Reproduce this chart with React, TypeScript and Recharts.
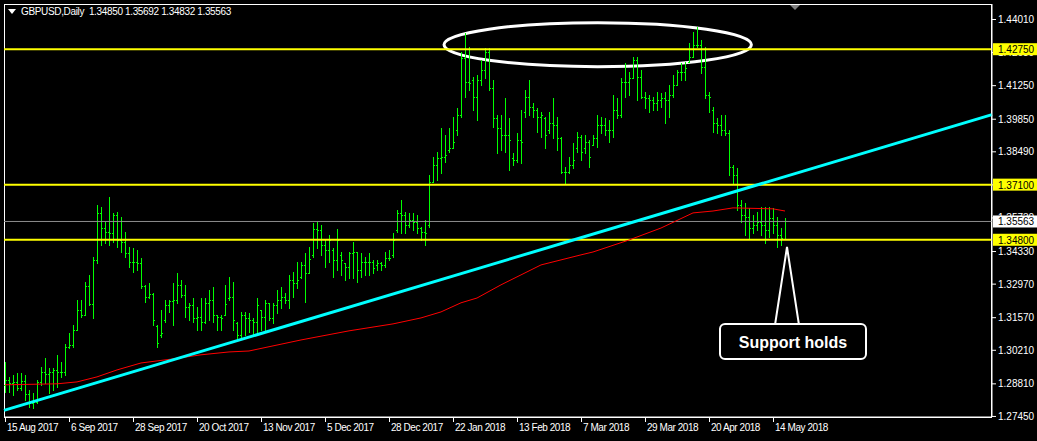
import React from "react";
import {
  ComposedChart, Bar, Line, XAxis, YAxis, ReferenceLine, ReferenceArea,
} from "recharts";

// GBPUSD daily bars, 15 Aug 2017 .. mid May 2018
const OPEN = [
  1.2875, 1.2895, 1.2883, 1.2887, 1.2862, 1.2891, 1.2837, 1.2800, 1.2804, 1.2887,
  1.2929, 1.2920, 1.2929, 1.2937, 1.2929, 1.2929, 1.3033, 1.3042, 1.3104, 1.3187,
  1.3167, 1.3287, 1.3212, 1.3396, 1.3592, 1.3529, 1.3513, 1.3508, 1.3583, 1.3479,
  1.3471, 1.3425, 1.3387, 1.3387, 1.3383, 1.3287, 1.3242, 1.3254, 1.3120, 1.3083,
  1.3146, 1.3208, 1.3225, 1.3229, 1.3292, 1.3250, 1.3200, 1.3208, 1.3154, 1.3158,
  1.3137, 1.3217, 1.3229, 1.3167, 1.3158, 1.3167, 1.3237, 1.3242, 1.3133, 1.3083,
  1.3167, 1.3154, 1.3146, 1.3137, 1.3187, 1.3158, 1.3217, 1.3154, 1.3208, 1.3229,
  1.3242, 1.3229, 1.3312, 1.3300, 1.3325, 1.3375, 1.3342, 1.3417, 1.3525, 1.3521,
  1.3458, 1.3438, 1.3438, 1.3396, 1.3417, 1.3383, 1.3367, 1.3425, 1.3429, 1.3354,
  1.3387, 1.3387, 1.3387, 1.3375, 1.3383, 1.3375, 1.3404, 1.3417, 1.3521, 1.3592,
  1.3583, 1.3542, 1.3563, 1.3554, 1.3529, 1.3513, 1.3542, 1.3721, 1.3792, 1.3821,
  1.3825, 1.3855, 1.3863, 1.3938, 1.4000, 1.4238, 1.4138, 1.4146, 1.4076, 1.4146,
  1.4188, 1.4263, 1.4113, 1.3988, 1.3946, 1.3917, 1.3917, 1.3821, 1.3813, 1.3896,
  1.4013, 1.4076, 1.4034, 1.4021, 1.3992, 1.3988, 1.3938, 1.3967, 1.3959, 1.3905,
  1.3763, 1.3763, 1.3792, 1.3863, 1.3909, 1.3863, 1.3888, 1.3875, 1.3905, 1.3959,
  1.3959, 1.3938, 1.3938, 1.4021, 1.4000, 1.4138, 1.4138, 1.4155, 1.4230, 1.4159,
  1.4076, 1.4071, 1.4063, 1.4050, 1.4063, 1.4071, 1.4063, 1.4084, 1.4126, 1.4180,
  1.4180, 1.4221, 1.4242, 1.4292, 1.4292, 1.4201, 1.4084, 1.4021, 1.3967, 1.3959,
  1.3938, 1.3925, 1.3784, 1.3750, 1.3625, 1.3583, 1.3575, 1.3529, 1.3542, 1.3554,
  1.3542, 1.3521, 1.3571, 1.3542, 1.3500, 1.34850,
];
const HIGH = [
  1.2970, 1.2908, 1.2916, 1.2924, 1.2924, 1.2916, 1.2854, 1.2841, 1.2895, 1.2950,
  1.2987, 1.2945, 1.2945, 1.3000, 1.2970, 1.3046, 1.3091, 1.3125, 1.3229, 1.3229,
  1.3304, 1.3333, 1.3408, 1.3625, 1.3617, 1.3554, 1.3659, 1.3592, 1.3596, 1.3575,
  1.3513, 1.3450, 1.3446, 1.3438, 1.3404, 1.3292, 1.3300, 1.3260, 1.3125, 1.3187,
  1.3229, 1.3229, 1.3300, 1.3342, 1.3312, 1.3292, 1.3217, 1.3237, 1.3200, 1.3237,
  1.3237, 1.3271, 1.3283, 1.3167, 1.3167, 1.3292, 1.3325, 1.3304, 1.3137, 1.3179,
  1.3179, 1.3175, 1.3154, 1.3237, 1.3187, 1.3229, 1.3217, 1.3217, 1.3271, 1.3283,
  1.3258, 1.3333, 1.3346, 1.3387, 1.3387, 1.3425, 1.3450, 1.3550, 1.3554, 1.3542,
  1.3479, 1.3500, 1.3446, 1.3525, 1.3429, 1.3383, 1.3429, 1.3471, 1.3429, 1.3425,
  1.3408, 1.3425, 1.3396, 1.3396, 1.3387, 1.3429, 1.3438, 1.3508, 1.3604, 1.3646,
  1.3596, 1.3592, 1.3592, 1.3583, 1.3533, 1.3563, 1.3750, 1.3825, 1.3846, 1.3946,
  1.3917, 1.3946, 1.3992, 1.4030, 1.4263, 1.4342, 1.4284, 1.4159, 1.4167, 1.4230,
  1.4280, 1.4280, 1.4146, 1.4000, 1.4000, 1.4071, 1.3988, 1.3842, 1.3925, 1.4021,
  1.4105, 1.4146, 1.4050, 1.4030, 1.4013, 1.3992, 1.4013, 1.4071, 1.3992, 1.3909,
  1.3784, 1.3825, 1.3884, 1.3930, 1.3917, 1.3917, 1.3896, 1.3917, 1.4000, 1.3992,
  1.3988, 1.3980, 1.4084, 1.4071, 1.4155, 1.4217, 1.4180, 1.4242, 1.4242, 1.4188,
  1.4096, 1.4084, 1.4076, 1.4096, 1.4092, 1.4096, 1.4126, 1.4167, 1.4188, 1.4217,
  1.4221, 1.4301, 1.4347, 1.4367, 1.4313, 1.4284, 1.4096, 1.4034, 1.3988, 1.4000,
  1.4000, 1.3938, 1.3792, 1.3779, 1.3646, 1.3633, 1.3613, 1.3583, 1.3596, 1.3617,
  1.3617, 1.3617, 1.3613, 1.3575, 1.3529, 1.35692,
];
const LOW = [
  1.2845, 1.2845, 1.2833, 1.2854, 1.2854, 1.2812, 1.2783, 1.2779, 1.2800, 1.2875,
  1.2883, 1.2841, 1.2854, 1.2866, 1.2908, 1.2916, 1.3029, 1.3033, 1.3104, 1.3158,
  1.3167, 1.3208, 1.3154, 1.3383, 1.3458, 1.3467, 1.3458, 1.3471, 1.3450, 1.3429,
  1.3408, 1.3367, 1.3346, 1.3354, 1.3279, 1.3221, 1.3237, 1.3125, 1.3033, 1.3075,
  1.3137, 1.3179, 1.3125, 1.3217, 1.3242, 1.3158, 1.3146, 1.3137, 1.3104, 1.3104,
  1.3133, 1.3146, 1.3137, 1.3104, 1.3104, 1.3167, 1.3229, 1.3104, 1.3062, 1.3071,
  1.3083, 1.3096, 1.3083, 1.3091, 1.3104, 1.3104, 1.3146, 1.3133, 1.3175, 1.3196,
  1.3217, 1.3196, 1.3242, 1.3279, 1.3321, 1.3221, 1.3342, 1.3408, 1.3446, 1.3417,
  1.3367, 1.3387, 1.3325, 1.3354, 1.3333, 1.3312, 1.3321, 1.3321, 1.3304, 1.3325,
  1.3333, 1.3333, 1.3342, 1.3354, 1.3354, 1.3367, 1.3396, 1.3408, 1.3513, 1.3508,
  1.3508, 1.3533, 1.3521, 1.3508, 1.3479, 1.3458, 1.3533, 1.3721, 1.3729, 1.3759,
  1.3804, 1.3846, 1.3863, 1.3917, 1.3992, 1.4076, 1.4105, 1.4021, 1.3980, 1.4126,
  1.4155, 1.4105, 1.3950, 1.3842, 1.3855, 1.3846, 1.3771, 1.3792, 1.3804, 1.3800,
  1.3992, 1.4000, 1.3992, 1.3930, 1.3909, 1.3863, 1.3925, 1.3905, 1.3855, 1.3759,
  1.3717, 1.3759, 1.3779, 1.3846, 1.3813, 1.3842, 1.3784, 1.3875, 1.3867, 1.3925,
  1.3917, 1.3888, 1.3909, 1.3988, 1.3992, 1.4076, 1.4084, 1.4155, 1.4063, 1.4071,
  1.4030, 1.4013, 1.4021, 1.4021, 1.4034, 1.3967, 1.3992, 1.4076, 1.4126, 1.4146,
  1.4146, 1.4221, 1.4242, 1.4284, 1.4176, 1.4071, 1.4013, 1.3930, 1.3925, 1.3917,
  1.3917, 1.3750, 1.3717, 1.3604, 1.3554, 1.3500, 1.3488, 1.3508, 1.3521, 1.3500,
  1.3467, 1.3492, 1.3508, 1.3450, 1.3458, 1.34832,
];
const CLOSE = [
  1.2895, 1.2883, 1.2887, 1.2862, 1.2891, 1.2837, 1.2800, 1.2804, 1.2887, 1.2929,
  1.2920, 1.2929, 1.2937, 1.2929, 1.2929, 1.3033, 1.3042, 1.3104, 1.3187, 1.3167,
  1.3287, 1.3212, 1.3396, 1.3592, 1.3529, 1.3513, 1.3508, 1.3583, 1.3479, 1.3471,
  1.3425, 1.3387, 1.3387, 1.3383, 1.3287, 1.3242, 1.3254, 1.3146, 1.3050, 1.3091,
  1.3208, 1.3225, 1.3229, 1.3292, 1.3250, 1.3200, 1.3208, 1.3154, 1.3158, 1.3137,
  1.3217, 1.3229, 1.3167, 1.3158, 1.3154, 1.3212, 1.3242, 1.3146, 1.3083, 1.3167,
  1.3154, 1.3146, 1.3137, 1.3208, 1.3158, 1.3217, 1.3154, 1.3208, 1.3229, 1.3242,
  1.3229, 1.3312, 1.3300, 1.3312, 1.3375, 1.3342, 1.3400, 1.3525, 1.3521, 1.3458,
  1.3438, 1.3479, 1.3396, 1.3479, 1.3396, 1.3367, 1.3425, 1.3429, 1.3354, 1.3387,
  1.3387, 1.3387, 1.3362, 1.3383, 1.3375, 1.3404, 1.3404, 1.3479, 1.3592, 1.3583,
  1.3542, 1.3563, 1.3554, 1.3529, 1.3513, 1.3508, 1.3721, 1.3792, 1.3821, 1.3825,
  1.3834, 1.3863, 1.3888, 1.4000, 1.4238, 1.4138, 1.4134, 1.4076, 1.4146, 1.4188,
  1.4263, 1.4113, 1.3988, 1.3946, 1.3917, 1.3917, 1.3896, 1.3813, 1.3896, 1.3888,
  1.4076, 1.4034, 1.4021, 1.3992, 1.4000, 1.3917, 1.3967, 1.3959, 1.3905, 1.3763,
  1.3763, 1.3792, 1.3813, 1.3909, 1.3846, 1.3888, 1.3825, 1.3905, 1.3959, 1.3959,
  1.3938, 1.3938, 1.4021, 1.4000, 1.4138, 1.4138, 1.4155, 1.4230, 1.4159, 1.4076,
  1.4071, 1.4063, 1.4050, 1.4063, 1.4071, 1.4063, 1.4084, 1.4126, 1.4180, 1.4180,
  1.4196, 1.4242, 1.4292, 1.4292, 1.4201, 1.4084, 1.4076, 1.3967, 1.3959, 1.3938,
  1.3925, 1.3784, 1.3750, 1.3625, 1.3583, 1.3575, 1.3529, 1.3542, 1.3554, 1.3542,
  1.3521, 1.3571, 1.3542, 1.3500, 1.3488, 1.35563,
];

// red moving average, read at a few bars
const MA_AT = [0, 13, 18, 23, 28, 34, 42, 49, 56, 61, 74, 86, 97, 104, 109, 114, 118, 124, 134, 144, 147, 156, 164, 172, 177, 182, 192, 195];
const MA_VAL = [
  1.2875, 1.2879, 1.2887, 1.2908, 1.2937, 1.2966, 1.2983, 1.3000, 1.3012, 1.3016,
  1.3062, 1.3100, 1.3129, 1.3154, 1.3179, 1.3217, 1.3237, 1.3292, 1.3375, 1.3417,
  1.3429, 1.3479, 1.3529, 1.3592, 1.3600, 1.3613, 1.3609, 1.3600,
];

const DATE_TICKS = [0, 16, 32, 48, 64, 80, 96, 112, 128, 144, 160, 176, 192];
const DATE_LABELS = [
  "15 Aug 2017", "6 Sep 2017", "28 Sep 2017", "20 Oct 2017", "13 Nov 2017", "5 Dec 2017",
  "28 Dec 2017", "22 Jan 2018", "13 Feb 2018", "7 Mar 2018", "29 Mar 2018", "20 Apr 2018", "14 May 2018",
];

const PRICE_TICKS = [1.4401, 1.4263, 1.4125, 1.3985, 1.3849, 1.3711, 1.3573, 1.3433, 1.3297, 1.3157, 1.3021, 1.2881, 1.2745];
const LEVELS = [1.4275, 1.371, 1.348];
const LAST_PRICE = 1.35563;
const TREND = [{ x: -0.25, y: 1.2768 }, { x: 246.75, y: 1.4002 }];

const X_DOMAIN: [number, number] = [-0.25, 246.75];
const Y_DOMAIN: [number, number] = [1.27406, 1.44636];

const data = OPEN.map((o, i) => ({
  i,
  open: o,
  high: HIGH[i],
  low: LOW[i],
  close: CLOSE[i],
  ma: MA_AT.includes(i) ? MA_VAL[MA_AT.indexOf(i)] : null,
}));

const FONT = "'Liberation Sans', Arial, sans-serif";
const GREEN = "#00ff00";

function OhlcBar(props: any) {
  const { x, y, width, height, payload } = props;
  if (!payload) return null;
  const { open, high, low, close } = payload;
  const top = Math.min(y, y + height);
  const h = Math.abs(height);
  const k = high > low ? h / (high - low) : 0;
  const cx = Math.round(x + width / 2);
  const oy = Math.round(top + (high - open) * k);
  const cy = Math.round(top + (high - close) * k);
  return (
    <g shapeRendering="crispEdges">
      <line x1={cx + 0.5} x2={cx + 0.5} y1={Math.round(top)} y2={Math.round(top + h) + 1} stroke={GREEN} strokeWidth={1} />
      <line x1={cx - 1} x2={cx} y1={oy + 0.5} y2={oy + 0.5} stroke={GREEN} strokeWidth={1} />
      <line x1={cx + 1} x2={cx + 2} y1={cy + 0.5} y2={cy + 0.5} stroke={GREEN} strokeWidth={1} />
    </g>
  );
}

function DateTick(props: any) {
  const { x, y, payload } = props;
  const label = DATE_LABELS[DATE_TICKS.indexOf(payload.value)];
  return (
    <g>
      <line x1={x + 0.5} x2={x + 0.5} y1={y} y2={y + 5} stroke="#fff" />
      <text x={x + 2} y={y + 14} fill="#fff" fontSize={10} letterSpacing={-0.45} fontFamily={FONT}>{label}</text>
    </g>
  );
}

function PriceTick(props: any) {
  const { x, y, payload } = props;
  const v: number = payload.value;
  const isLevel = LEVELS.includes(v);
  const isLast = v === LAST_PRICE;
  if (isLevel || isLast) {
    return (
      <g>
        <rect x={x + 1} y={y - 6} width={44} height={12} fill={isLevel ? "#ffff00" : "#ffffff"} />
        <text x={x + 6} y={y + 4} fill="#000" fontSize={10} fontFamily={FONT}>{v.toFixed(5)}</text>
      </g>
    );
  }
  return (
    <g>
      <line x1={x} x2={x + 4} y1={y + 0.5} y2={y + 0.5} stroke="#fff" />
      <text x={x + 6} y={y + 4} fill="#fff" fontSize={10} fontFamily={FONT}>{v.toFixed(5)}</text>
    </g>
  );
}

function Frame(props: any) {
  const { x, y, width, height } = props;
  return <rect x={x + 0.5} y={y + 0.5} width={width - 1} height={height} fill="none" stroke="#fff" />;
}

function ShiftMark(props: any) {
  const { x, y, width } = props;
  const mx = x + width / 2;
  return <polygon points={`${mx - 5},${y + 1} ${mx + 5},${y + 1} ${mx},${y + 6}`} fill="#808080" />;
}

function Ellipse(props: any) {
  const { x, y, width, height } = props;
  return <ellipse cx={x + width / 2} cy={y + height / 2} rx={width / 2} ry={height / 2} fill="none" stroke="#fff" strokeWidth={3} />;
}

function Callout(props: any) {
  const { x, y, width, height } = props;
  const boxH = 35;
  const by = y + height - boxH;
  const tipX = x + 67;
  return (
    <g>
      <path d={`M${tipX - 12},${by + 1} L${tipX},${y} L${tipX + 12},${by + 1}`} fill="#000" stroke="#fff" strokeWidth={2} />
      <rect x={x} y={by} width={width} height={boxH} rx={5} fill="#000" stroke="#fff" strokeWidth={2} />
      <text x={x + width / 2} y={by + 24} textAnchor="middle" fill="#fff" fontSize={16} fontWeight="bold" fontFamily={FONT}>
        Support holds
      </text>
    </g>
  );
}

export default function App() {
  return (
    <div style={{ position: "relative", width: 1037, height: 441, background: "#000" }}>
      <style>{`body{margin:0;background:#000}`}</style>
      <ComposedChart width={1037} height={441} data={data} margin={{ top: 4, right: 0, left: 4, bottom: 0 }}>
        <XAxis
          dataKey="i"
          type="number"
          domain={X_DOMAIN}
          allowDataOverflow
          ticks={DATE_TICKS}
          interval={0}
          tick={<DateTick />}
          tickSize={0}
          tickMargin={0}
          tickLine={false}
          axisLine={{ stroke: "#fff" }}
          height={24}
        />
        <YAxis
          orientation="right"
          type="number"
          domain={Y_DOMAIN}
          allowDataOverflow
          ticks={[...PRICE_TICKS, LAST_PRICE, ...LEVELS]}
          interval={0}
          tick={<PriceTick />}
          tickSize={0}
          tickMargin={0}
          tickLine={false}
          axisLine={{ stroke: "#fff" }}
          width={45}
        />
        <ReferenceArea x1={X_DOMAIN[0]} x2={X_DOMAIN[1]} y1={Y_DOMAIN[0]} y2={Y_DOMAIN[1]} shape={<Frame />} />
        <ReferenceArea x1={195.5} x2={199.5} y1={1.44} y2={Y_DOMAIN[1]} shape={<ShiftMark />} />
        {LEVELS.map((lv) => (
          <ReferenceLine key={lv} y={lv} stroke="#ffff00" strokeWidth={2} />
        ))}
        <ReferenceLine y={LAST_PRICE} stroke="#8c8c8c" strokeWidth={1} />
        <Line dataKey="ma" stroke="#ff0000" strokeWidth={1} dot={false} connectNulls isAnimationActive={false} />
        <Bar dataKey={(d: any) => [d.low, d.high]} barSize={2} fill={GREEN} shape={<OhlcBar />} isAnimationActive={false} />
        <ReferenceLine segment={TREND} stroke="#00ffff" strokeWidth={3} />
        <ReferenceArea x1={109.75} x2={186.6} y1={1.4202} y2={1.43856} shape={<Ellipse />} />
        <ReferenceArea x1={178.75} x2={215.25} y1={1.29826} y2={1.34498} shape={<Callout />} />
      </ComposedChart>
      <div style={{ position: "absolute", left: 8, top: 6, display: "flex", alignItems: "center", color: "#fff", fontFamily: FONT, fontSize: 10, letterSpacing: -0.35, whiteSpace: "pre" }}>
        <svg width={8} height={6} style={{ marginRight: 5 }}>
          <polygon points="0,0 8,0 4,5" fill="#fff" />
        </svg>
        <span>GBPUSD,Daily  1.34850 1.35692 1.34832 1.35563</span>
      </div>
    </div>
  );
}
